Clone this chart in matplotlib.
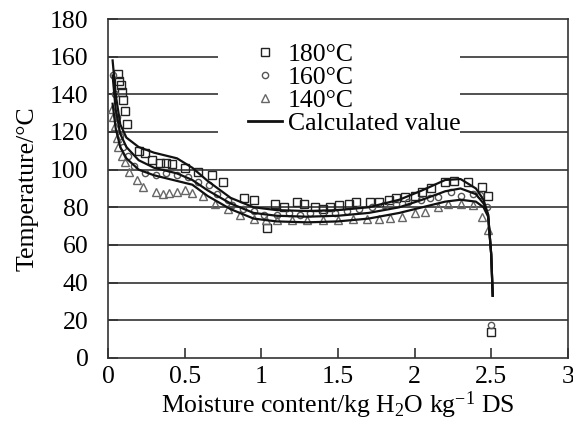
import matplotlib.pyplot as plt
from matplotlib.lines import Line2D
from matplotlib.patches import Rectangle

plt.rcParams['font.family'] = ['Liberation Serif', 'DejaVu Serif']
plt.rcParams['mathtext.fontset'] = 'custom'
plt.rcParams['mathtext.rm'] = 'Liberation Serif'
plt.rcParams['mathtext.it'] = 'Liberation Serif:italic'

# calculated curves (shared x)
x_calc = [0.03, 0.05, 0.08, 0.12, 0.2, 0.3, 0.45, 0.55, 0.65, 0.8, 0.95, 1.1,
          1.3, 1.5, 1.7, 1.9, 2.05, 2.2, 2.3, 2.4, 2.45, 2.48, 2.5, 2.51]
y_calc_180 = [158, 140, 124, 117, 112, 109, 106, 101, 94, 85, 80, 78.5,
              78, 78.5, 80, 84, 89, 94.5, 95, 90, 84, 76, 55, 33]
y_calc_160 = [150, 132, 119, 112, 105, 101, 98, 94.5, 89, 82, 77, 75.5,
              75, 75.5, 77, 80, 84, 88.5, 90, 87, 82, 76, 55, 33]
y_calc_140 = [135, 122, 112, 106, 100, 97, 94, 92, 86, 79, 74, 72.5,
              72, 72.5, 74, 77, 80, 83, 84, 83, 80, 75, 55, 33]

# measured 180 C
x_180 = [0.065, 0.07, 0.085, 0.09, 0.1, 0.11, 0.125, 0.2, 0.24, 0.29, 0.34, 0.38,
         0.42, 0.5, 0.59, 0.68, 0.75, 0.89, 0.95, 1.04, 1.09, 1.15, 1.23, 1.28,
         1.35, 1.4, 1.45, 1.51, 1.57, 1.62, 1.71, 1.77, 1.83, 1.88, 1.94, 2.0,
         2.05, 2.11, 2.2, 2.26, 2.35, 2.44, 2.48, 2.5]
y_180 = [151, 147, 145, 141, 137, 131, 124, 110, 109, 105, 103.5, 103.5,
         103, 101, 99, 97, 93.5, 85, 84, 69, 82, 80, 83, 82,
         80, 79, 80, 81, 82, 83, 83, 83, 84, 85, 85.5, 86,
         88, 90, 93.5, 94, 93.5, 91, 86, 14]

# measured 160 C
x_160 = [0.03, 0.045, 0.06, 0.08, 0.1, 0.13, 0.17, 0.24, 0.31, 0.38, 0.45, 0.52,
         0.59, 0.66, 0.71, 0.78, 0.81, 0.88, 0.95, 1.02, 1.1, 1.18, 1.25, 1.32,
         1.4, 1.48, 1.56, 1.64, 1.72, 1.8, 1.88, 1.96, 2.04, 2.1, 2.15, 2.24,
         2.3, 2.38, 2.43, 2.47, 2.5]
y_160 = [150, 140, 128, 118, 112, 107, 102, 98, 97, 98, 97, 96,
         93.5, 92, 87, 84, 81, 79, 78, 76, 76, 77, 76, 77,
         77, 77, 78, 79, 80, 81, 82, 83, 84, 85, 85.5, 88,
         86, 87, 86.5, 80, 17.5]

# measured 140 C
x_140 = [0.026, 0.033, 0.046, 0.059, 0.065, 0.09, 0.11, 0.14, 0.19, 0.23, 0.31, 0.36,
         0.4, 0.45, 0.5, 0.55, 0.62, 0.7, 0.78, 0.86, 0.95, 1.03, 1.1, 1.2,
         1.3, 1.4, 1.5, 1.6, 1.69, 1.77, 1.84, 1.92, 2.0, 2.07, 2.15, 2.22,
         2.3, 2.38, 2.44, 2.48]
y_140 = [132, 128, 123, 117, 112, 107, 104, 99, 94.5, 91, 88, 87,
         87.5, 88, 89, 87.5, 86, 82, 79, 76, 74, 73, 73, 73,
         73.5, 73.5, 73.5, 74, 74, 74, 74.5, 75, 77, 77.5, 80, 82,
         82, 81, 75, 68]

fig = plt.figure(figsize=(5.73, 4.37), dpi=100)
ax = fig.add_axes([0.1885, 0.181, 0.8025, 0.7755])

for yv in range(20, 180, 20):
    ax.axhline(yv, color='#333333', lw=1.2, zorder=0)
# white area behind the legend
ax.add_patch(Rectangle((0.239, 0.664), 0.526, 0.28, transform=ax.transAxes,
                       facecolor='white', edgecolor='none', zorder=1))

ax.plot(x_180, y_180, ls='none', marker='s', ms=6, mfc='none', mec='#222222', mew=1.0, zorder=3)
ax.plot(x_160, y_160, ls='none', marker='o', ms=4.5, mfc='none', mec='#555555', mew=1.0, zorder=3)
ax.plot(x_140, y_140, ls='none', marker='^', ms=6, mfc='none', mec='#666666', mew=1.0, zorder=3)
for yc in (y_calc_180, y_calc_160, y_calc_140):
    ax.plot(x_calc, yc, color='#111111', lw=1.6, zorder=4)

ax.set_xlim(0, 3)
ax.set_ylim(0, 180)
ax.set_xticks([0, 0.5, 1, 1.5, 2, 2.5, 3])
ax.set_xticklabels(['0', '0.5', '1', '1.5', '2', '2.5', '3'])
ax.set_yticks(range(0, 181, 20))
ax.tick_params(direction='in', length=7, width=1.2, labelsize=18.5, color='#333333')
ax.tick_params(axis='y', pad=14)
ax.tick_params(axis='x', pad=6)
for s in ax.spines.values():
    s.set_linewidth(1.2)
    s.set_color('#333333')

ax.set_xlabel(r'Moisture content/kg H$_2$O kg$^{\mathregular{-1}}$ DS', fontsize=18.5, labelpad=1)
ax.set_ylabel('Temperature/°C', fontsize=18.5, labelpad=8)

handles = [
    Line2D([], [], ls='none', marker='s', ms=6, mfc='none', mec='#222222', mew=1.0),
    Line2D([], [], ls='none', marker='o', ms=4.5, mfc='none', mec='#555555', mew=1.0),
    Line2D([], [], ls='none', marker='^', ms=6, mfc='none', mec='#666666', mew=1.0),
    Line2D([], [], color='#111111', lw=2),
]
ax.legend(handles, ['180°C', '160°C', '140°C', 'Calculated value'],
          loc='upper left', bbox_to_anchor=(0.26, 0.99), frameon=False,
          fontsize=18.5, handlelength=1.3, handletextpad=0.25, labelspacing=0.0,
          borderpad=0.3)

fig.savefig('out.png', dpi=100)
